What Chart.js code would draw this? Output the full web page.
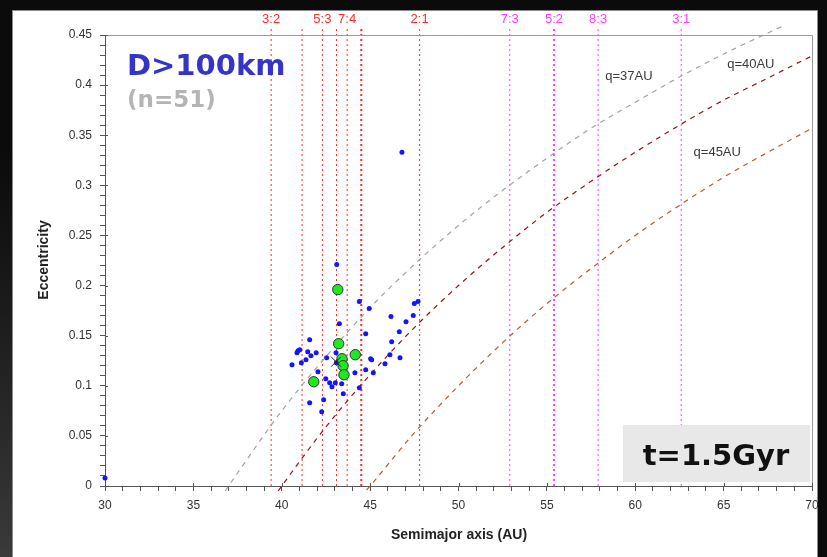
<!DOCTYPE html>
<html>
<head>
<meta charset="utf-8">
<script src="https://cdn.jsdelivr.net/npm/chart.js@4.4.1/dist/chart.umd.min.js"></script>
<style>
  html, body { margin: 0; padding: 0; background: #0b0b0b; }
  #wrap { width: 827px; height: 557px; }
</style>
</head>
<body>
<div id="wrap"><canvas id="c" width="827" height="557"></canvas></div>
<script>
// objects with D>100km, semimajor axis (AU) vs eccentricity
var blueA = [43.11, 44.39, 44.95, 47.50, 47.71, 43.26, 46.18, 47.03, 47.44, 41.58,
             44.75, 46.65, 46.22, 40.92, 41.02, 40.86, 41.47, 41.95, 41.65, 41.37,
             41.11, 40.58, 42.54, 43.07, 43.09, 45.03, 45.09, 46.12, 46.69, 45.84,
             44.75, 45.18, 44.14, 42.05, 42.49, 42.71, 42.84, 43.03, 43.39, 43.48,
             44.39, 41.58, 42.37, 42.26, 46.80, 30.00];
var blueE = [0.221, 0.184, 0.177, 0.182, 0.184, 0.162, 0.169, 0.164, 0.170, 0.146,
             0.152, 0.154, 0.144, 0.135, 0.136, 0.133, 0.134, 0.133, 0.130, 0.126,
             0.123, 0.121, 0.128, 0.133, 0.123, 0.127, 0.126, 0.131, 0.128, 0.122,
             0.116, 0.113, 0.113, 0.114, 0.107, 0.103, 0.099, 0.103, 0.102, 0.092,
             0.098, 0.083, 0.086, 0.074, 0.333, 0.008];
var greenA = [43.17, 43.22, 44.16, 43.41, 43.47, 43.52, 41.81];
var greenE = [0.196, 0.142, 0.131, 0.127, 0.120, 0.111, 0.104];
var crossA = [43.07];
var crossE = [0.124];

// mean-motion resonances with Neptune
var redResA = [39.4, 41.15, 42.3, 43.1, 43.7, 44.5, 47.8];
var redResLabels = ['3:2', '', '5:3', '', '7:4', '', '2:1'];
var magResA = [52.9, 55.4, 57.9, 62.6];
var magResLabels = ['7:3', '5:2', '8:3', '3:1'];

// constant perihelion curves
var q37A = [36.8, 37.5, 40, 42.5, 45, 47.5, 50, 52.5, 55, 57.5, 60, 62.5, 65, 67.5, 68.5];
var q37E = [-0.005, 0.013, 0.075, 0.129, 0.178, 0.221, 0.26, 0.295, 0.327, 0.357, 0.383, 0.408, 0.431, 0.452, 0.46];
var q40A = [39.8, 40, 42.5, 45, 47.5, 50, 52.5, 55, 57.5, 60, 62.5, 65, 67.5, 70, 70.4];
var q40E = [-0.005, 0, 0.059, 0.111, 0.158, 0.2, 0.238, 0.273, 0.304, 0.333, 0.36, 0.385, 0.407, 0.429, 0.432];
var q45A = [44.8, 45, 47.5, 50, 52.5, 55, 57.5, 60, 62.5, 65, 67.5, 70, 70.4];
var q45E = [-0.004, 0, 0.053, 0.1, 0.143, 0.182, 0.217, 0.25, 0.28, 0.308, 0.333, 0.357, 0.361];

var xMajor = [30, 35, 40, 45, 50, 55, 60, 65, 70];
var yMajor = [0, 0.05, 0.1, 0.15, 0.2, 0.25, 0.3, 0.35, 0.4, 0.45];

var FONT = '"Liberation Sans", Arial, sans-serif';

function pts(xs, ys) {
  return xs.map(function (x, i) { return { x: x, y: ys[i] }; });
}
function isMajor(list, v) {
  for (var i = 0; i < list.length; i++) if (Math.abs(list[i] - v) < 1e-6) return true;
  return false;
}

function resSet(a, color, thick) {
  return {
    type: 'line', data: [{ x: a, y: 0 }, { x: a, y: 0.458 }],
    borderColor: color, borderWidth: thick ? 2 : 1, borderDash: [2, 3],
    pointRadius: 0, clip: false, order: 3
  };
}
function qSet(xs, ys, color) {
  return {
    type: 'line', data: pts(xs, ys), borderColor: color, borderWidth: 1.2,
    borderDash: [5, 5], pointRadius: 0, cubicInterpolationMode: 'monotone',
    clip: false, order: 2
  };
}

var datasets = [];
redResA.forEach(function (a, i) { datasets.push(resSet(a, '#ff2a2a', i === 5)); });
magResA.forEach(function (a, i) { datasets.push(resSet(a, '#ff3cff', i === 1)); });
datasets.push(qSet(q37A, q37E, '#a3a3a3'));
datasets.push(qSet(q40A, q40E, '#8e1414'));
datasets.push(qSet(q45A, q45E, '#b55a30'));
datasets.push({ type: 'scatter', data: pts(blueA, blueE), pointRadius: 2.5, pointBorderWidth: 0,
  backgroundColor: '#1414ff', borderColor: '#1414ff', clip: false, order: 1 });
datasets.push({ type: 'scatter', data: pts(crossA, crossE), pointStyle: 'crossRot', pointRadius: 7,
  borderColor: '#222', borderWidth: 1, clip: false, order: 0 });
datasets.push({ type: 'scatter', data: pts(greenA, greenE), pointRadius: 5.2, pointBorderWidth: 1,
  backgroundColor: '#1ee81e', borderColor: '#333', clip: false, order: 0 });

var backdrop = {
  id: 'backdrop',
  beforeDraw: function (chart) {
    var ctx = chart.ctx;
    ctx.save();
    ctx.fillStyle = '#0b0b0b';
    ctx.fillRect(0, 0, chart.width, chart.height);
    var g = ctx.createLinearGradient(0, 150, 0, 557);
    g.addColorStop(0, 'rgba(60,60,60,0)');
    g.addColorStop(1, 'rgba(70,70,70,0.8)');
    ctx.fillStyle = g;
    ctx.fillRect(0, 150, 12, 407);
    ctx.fillStyle = '#ffffff';
    ctx.fillRect(12, 10, 806, 547);
    ctx.strokeStyle = '#8a8a8a';
    ctx.lineWidth = 1;
    ctx.strokeRect(12.5, 10.5, 805, 560);
    ctx.restore();
  }
};

var overlay = {
  id: 'overlay',
  afterDatasetsDraw: function (chart) {
    var ctx = chart.ctx, ca = chart.chartArea;
    var xs = chart.scales.x, ys = chart.scales.y;
    ctx.save();

    // frame top and right
    ctx.strokeStyle = '#9a9a9a';
    ctx.lineWidth = 1;
    ctx.beginPath();
    ctx.moveTo(ca.left, ca.top + 0.5); ctx.lineTo(ca.right + 0.5, ca.top + 0.5);
    ctx.lineTo(ca.right + 0.5, ca.bottom);
    ctx.stroke();

    // inner part of major ticks
    ctx.strokeStyle = '#555';
    ctx.beginPath();
    yMajor.forEach(function (v) {
      var y = Math.round(ys.getPixelForValue(v)) + 0.5;
      ctx.moveTo(ca.left, y); ctx.lineTo(ca.left + 3, y);
    });
    xMajor.forEach(function (v) {
      var x = Math.round(xs.getPixelForValue(v)) + 0.5;
      ctx.moveTo(x, ca.bottom); ctx.lineTo(x, ca.bottom - 3);
    });
    ctx.stroke();

    // resonance labels
    ctx.font = '13px ' + FONT;
    ctx.textAlign = 'center';
    ctx.textBaseline = 'middle';
    ctx.fillStyle = '#ff2a2a';
    redResA.forEach(function (a, i) {
      if (redResLabels[i]) ctx.fillText(redResLabels[i], xs.getPixelForValue(a), 19);
    });
    ctx.fillStyle = '#ff3cff';
    magResA.forEach(function (a, i) {
      ctx.fillText(magResLabels[i], xs.getPixelForValue(a), 19);
    });

    // perihelion labels
    ctx.fillStyle = '#3a3a3a';
    ctx.textAlign = 'left';
    ctx.fillText('q=37AU', xs.getPixelForValue(58.3), ys.getPixelForValue(0.409));
    ctx.fillText('q=40AU', xs.getPixelForValue(65.2), ys.getPixelForValue(0.421));
    ctx.fillText('q=45AU', xs.getPixelForValue(63.3), ys.getPixelForValue(0.333));

    // title text
    ctx.font = 'bold 29px "DejaVu Sans", Verdana, sans-serif';
    ctx.textBaseline = 'alphabetic';
    ctx.fillStyle = '#3434c8';
    ctx.fillText('D>100km', 127, 75);
    ctx.font = 'bold 23px "DejaVu Sans", Verdana, sans-serif';
    ctx.fillStyle = '#b4b4b4';
    ctx.fillText('(n=51)', 127, 107);

    // time box
    ctx.fillStyle = '#e8e8e8';
    ctx.fillRect(623, 425, 187, 57);
    ctx.fillStyle = '#111';
    ctx.font = 'bold 29px "DejaVu Sans", Verdana, sans-serif';
    ctx.textAlign = 'center';
    ctx.fillText('t=1.5Gyr', 716, 465);

    // axis titles
    ctx.font = 'bold 14px ' + FONT;
    ctx.fillStyle = '#222';
    ctx.textBaseline = 'middle';
    ctx.fillText('Semimajor axis (AU)', 459, 535);
    ctx.translate(44, 260);
    ctx.rotate(-Math.PI / 2);
    ctx.fillText('Eccentricity', 0, 0);
    ctx.restore();
  }
};

new Chart(document.getElementById('c'), {
  type: 'scatter',
  data: { datasets: datasets },
  options: {
    responsive: false,
    animation: false,
    events: [],
    layout: { padding: { top: 35, right: 15, left: 0, bottom: 0 } },
    plugins: { legend: { display: false }, tooltip: { enabled: false } },
    scales: {
      x: {
        type: 'linear', min: 30, max: 70,
        afterFit: function (s) { s.height = 71; },
        border: { display: true, color: '#555', width: 1 },
        grid: { drawOnChartArea: false, tickLength: 5, color: '#555' },
        ticks: {
          stepSize: 1, autoSkip: false, maxRotation: 0, maxTicksLimit: 100, padding: 7,
          color: '#333', font: { family: FONT, size: 12 },
          callback: function (v) { return isMajor(xMajor, v) ? String(Math.round(v)) : ''; }
        }
      },
      y: {
        type: 'linear', min: 0, max: 0.45,
        afterFit: function (s) { s.width = 105; },
        border: { display: true, color: '#555', width: 1 },
        grid: { drawOnChartArea: false, tickLength: 5, color: '#555' },
        ticks: {
          stepSize: 0.01, autoSkip: false, maxTicksLimit: 100, padding: 8,
          color: '#333', font: { family: FONT, size: 12 },
          callback: function (v) { return isMajor(yMajor, v) ? String(+v.toFixed(2)) : ''; }
        }
      }
    }
  },
  plugins: [backdrop, overlay]
});
</script>
</body>
</html>
